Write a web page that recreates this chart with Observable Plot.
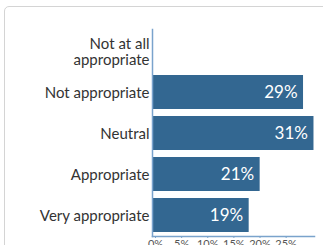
<!DOCTYPE html>
<html>
<head>
<meta charset="utf-8">
<script src="https://cdn.jsdelivr.net/npm/d3@7"></script>
<script src="https://cdn.jsdelivr.net/npm/@observablehq/plot@0.6"></script>
<style>
  html, body { margin: 0; padding: 0; background: #fff; overflow: hidden; }
  #wrap { position: relative; width: 323px; height: 245px; overflow: hidden; }
  #card { position: absolute; left: 4px; top: 6px; width: 400px; height: 400px;
          border: 1px solid #d4d4d4; border-radius: 5px; box-sizing: border-box; }
  #chart { position: absolute; left: 0; top: 0; }
</style>
</head>
<body>
<div id="wrap"><div id="card"></div><div id="chart"></div></div>
<script>
const categories = ["Not at all appropriate", "Not appropriate", "Neutral", "Appropriate", "Very appropriate"];
const axisLabels = ["Not at all\nappropriate", "Not appropriate", "Neutral", "Appropriate", "Very appropriate"];
const values = [0, 28.9, 30.9, 20.6, 18.5];
const valueLabels = ["", "29%", "31%", "21%", "19%"];
const xTicks = [0, 5, 10, 15, 20, 25];

const data = categories.map((c, i) => ({category: c, value: values[i], label: valueLabels[i]}));
const labelOf = new Map(categories.map((c, i) => [c, axisLabels[i]]));

const barColor = "#336791";
const axisColor = "#7aa3cc";

const chart = Plot.plot({
  width: 323,
  height: 245,
  marginLeft: 152,
  marginRight: 9,
  marginTop: 29,
  marginBottom: 9,
  style: {fontFamily: "Lato, sans-serif", background: "transparent", overflow: "visible"},
  x: {domain: [0, 31], axis: null},
  y: {domain: categories, paddingInner: 0.18, paddingOuter: 0.1, axis: null},
  marks: [
    Plot.barX(data, {x: "value", y: "category", fill: barColor}),
    Plot.text(data.filter(d => d.value > 0), {
      x: "value", y: "category", text: "label", textAnchor: "end", dx: -6,
      fill: "white", fontSize: 17
    }),
    Plot.axisY({
      tickSize: 0, tickPadding: 3, fontSize: 15, fill: "#333", label: null,
      tickFormat: d => labelOf.get(d), lineHeight: 1.07
    }),
    Plot.axisX({
      ticks: xTicks, tickFormat: d => d + "%", tickSize: 2, tickPadding: 2,
      fontSize: 11, fill: "#555", stroke: axisColor, label: null, dx: 3
    }),
    Plot.frame({anchor: "left", stroke: axisColor, strokeWidth: 1.5}),
    Plot.frame({anchor: "bottom", stroke: axisColor, strokeWidth: 1.5})
  ]
});
document.getElementById("chart").appendChild(chart);
</script>
</body>
</html>
